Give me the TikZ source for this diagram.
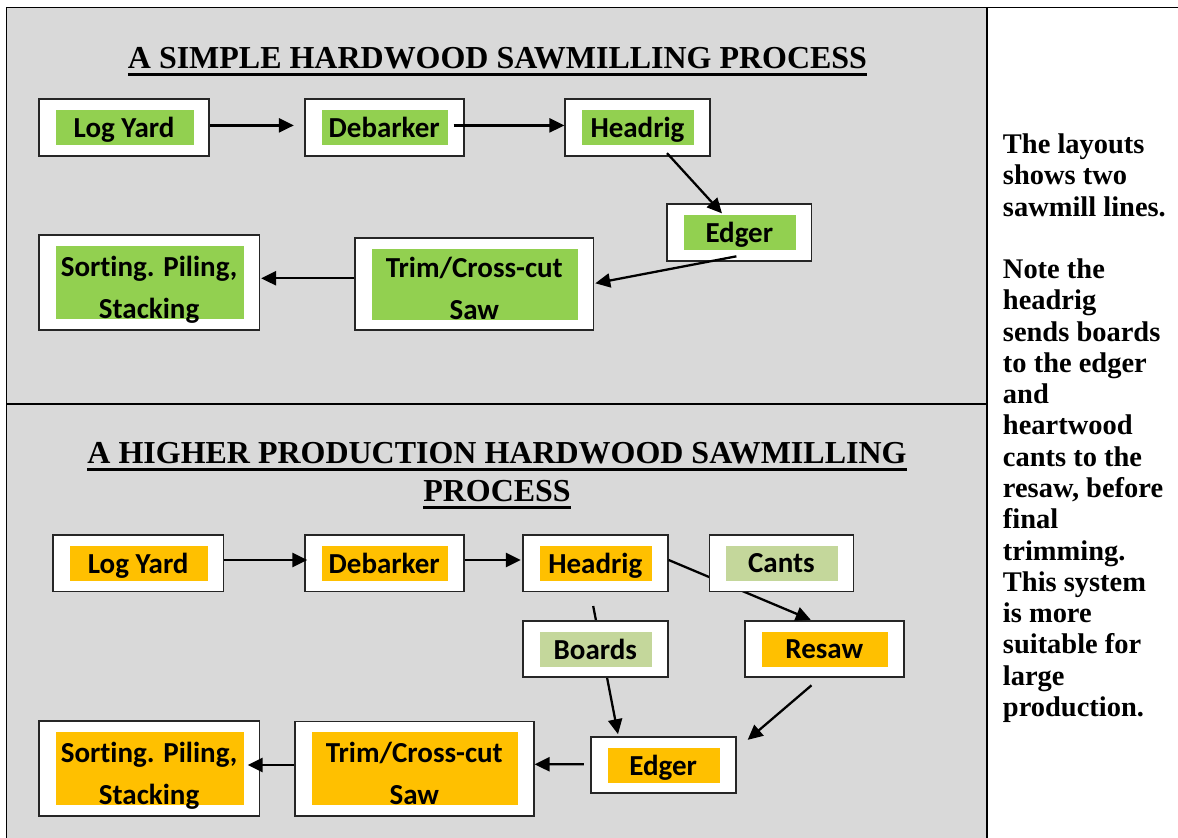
\documentclass[tikz,border=0pt]{standalone}
\usepackage{fontspec}
\setmainfont{Liberation Serif}
\newfontfamily\boxfont[Ligatures=NoCommon]{Carlito}
\usetikzlibrary{arrows.meta,calc}

\newcommand\ttlrule[1]{\leavevmode\setbox0\hbox{#1}\dp0=0pt\vtop{\box0\kern2.4pt\hrule height 1.6pt}}

\definecolor{panelgray}{HTML}{D9D9D9}
\definecolor{leafgreen}{HTML}{92D050}
\definecolor{amber}{HTML}{FFC000}
\definecolor{sage}{HTML}{C4D79B}

\tikzset{
  stage/.style={draw=black!85, line width=1pt, fill=white, align=center,
    minimum height=1.13cm, text depth=0pt,
    font=\boxfont\bfseries\fontsize{16.5}{23.7}\selectfont,
    path picture={\fill[#1] ($(path picture bounding box.south west)+(17,-10.5)$)
      rectangle ($(path picture bounding box.north east)+(-15.5,11)$);}},
  twoline/.style={text height=40.5pt, text depth=0pt},
  title/.style={font=\bfseries\fontsize{18.2}{21.5}\selectfont, align=center, anchor=base},
  note/.style={font=\bfseries\fontsize{16.2}{17.8}\selectfont, align=left, anchor=base west, inner sep=0pt},
  frame/.style={line width=1.1pt, black},
  arrow/.style={-{Triangle[length=8.5pt,width=8pt]}, line width=1.3pt}
}

\begin{document}
\begin{tikzpicture}[x=0.02cm, y=-0.02cm]
\useasboundingbox (0,0) rectangle (1178,838);

% panels
\fill[panelgray] (6.5,7.5) rectangle (987,838);
\draw[frame] (1178,7.5) -- (6.5,7.5) -- (6.5,838);
\draw[frame] (987,7.5) -- (987,838);
\draw[frame] (6.5,404) -- (987,404);

% titles (base = last line)
\node[title] (t1) at (497.5,68.5) {\ttlrule{A SIMPLE HARDWOOD SAWMILLING PROCESS}};
\node[title] (t2) at (497,501.7) {\ttlrule{A HIGHER PRODUCTION HARDWOOD SAWMILLING}\\\ttlrule{PROCESS}};

% simple line
\node[stage=leafgreen, minimum width=3.41cm] (ly1) at (124,127.4) {Log Yard};
\node[stage=leafgreen, minimum width=3.18cm] (db1) at (384.2,127.4) {Debarker};
\node[stage=leafgreen, minimum width=2.89cm] (hr1) at (637.5,127.4) {Headrig};
\node[stage=leafgreen, minimum width=2.89cm] (ed1) at (739.3,232.5) {Edger};
\node[stage=leafgreen, twoline, minimum width=4.77cm, minimum height=1.85cm] (tc1) at (474.3,283.9) {Trim/Cross-cut\\Saw};
\node[stage=leafgreen, twoline, minimum width=4.42cm, minimum height=1.9cm] (sp1) at (149.1,282.5) {Sorting. Piling,\\Stacking};

% higher production line
\node[stage=amber, minimum width=3.41cm] (ly2) at (138.2,563.2) {Log Yard};
\node[stage=amber, minimum width=3.18cm] (db2) at (384.2,563.2) {Debarker};
\node[stage=amber, minimum width=2.9cm] (hr2) at (595.3,563.2) {Headrig};
\node[stage=amber, minimum width=3.18cm] (rs2) at (824.3,648.9) {Resaw};
\node[stage=amber, minimum width=2.9cm] (ed2) at (663.2,765) {Edger};
\node[stage=amber, twoline, minimum width=4.78cm, minimum height=1.89cm] (tc2) at (414.3,768.7) {Trim/Cross-cut\\Saw};
\node[stage=amber, twoline, minimum width=4.42cm, minimum height=1.9cm] (sp2) at (149.1,768.5) {Sorting. Piling,\\Stacking};

% these two run behind the cants and boards boxes
\draw[arrow] ($(hr2.east)+(0,-3.2)$) -- ($(rs2.north)+(-13.6,0)$);
\draw[arrow] ($(hr2.south)+(-2.1,13.7)$) -- ($(ed2.north)+(-45.2,-1.7)$);
\node[stage=sage, minimum width=2.88cm] (ct2) at (781.4,563.2) {Cants};
\node[stage=sage, minimum width=2.9cm] (bd2) at (595.3,648.9) {Boards};

% arrows
\draw[arrow] ($(ly1.east)+(0,-2)$) -- ($(db1.west)+(-10,-2)$);
\draw[arrow] ($(db1.east)+(-11,-2)$) -- ($(hr1.west)+(0,-2)$);
\draw[arrow] ($(hr1.south)+(29.5,-3.4)$) -- ($(ed1.north)+(-17.3,10)$);
\draw[arrow] ($(ed1.south)+(-2.9,-5.3)$) -- ($(tc1.east)+(0.9,-0.6)$);
\draw[arrow] ($(tc1.west)+(0,-5.6)$) -- ($(sp1.east)+(0.7,-4.2)$);

\draw[arrow] ($(ly2.east)+(0,-3.2)$) -- ($(db2.west)+(3.4,-3.2)$);
\draw[arrow] ($(db2.east)+(0,-3.2)$) -- ($(hr2.west)+(-1.2,-3.2)$);
\draw[arrow] ($(rs2.south)+(-12.8,7.3)$) -- ($(ed2.north east)+(11.1,4)$);
\draw[arrow] ($(ed2.west)+(-5.9,-0.7)$) -- ($(tc2.east)+(0,-4.4)$);
\draw[arrow] ($(tc2.west)+(0,-3.7)$) -- ($(sp2.east)+(-12.7,-3.5)$);

% side note (base = last line)
\node[note] (nt) at (1002.6,716.4) {The layouts\\shows two\\sawmill lines.\\[17.8pt]Note the\\headrig\\sends boards\\to the edger\\and\\heartwood\\cants to the\\resaw, before\\final\\trimming.\\This system\\is more\\suitable for\\large\\production.};

\end{tikzpicture}
\end{document}
